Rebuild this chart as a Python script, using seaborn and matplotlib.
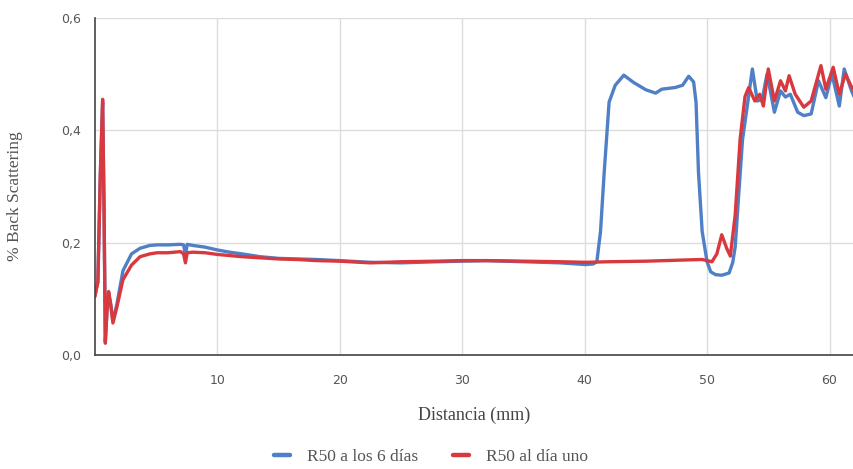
import pandas as pd
import seaborn as sns
import matplotlib.pyplot as plt
from matplotlib.ticker import FuncFormatter

# Datos (distancia en mm, back scattering)
dist_6dias = [0.0, 0.25, 0.45, 0.64, 0.75, 0.86, 1.0, 1.13, 1.3, 1.48, 1.8, 2.3, 3.0, 3.7, 4.5, 5.1,
              6.0, 7.0, 7.25, 7.4, 7.55, 8.0, 9.0, 10.0, 11.0, 12.0, 13.5, 15.0, 16.5, 18.1, 20.0,
              22.5, 25.0, 28.0, 30.0, 32.0, 35.0, 38.0, 40.1, 40.7, 41.0, 41.3, 41.6, 42.0, 42.5,
              43.2, 44.0, 45.0, 45.8, 46.3, 47.4, 48.0, 48.5, 48.9, 49.1, 49.3, 49.6, 50.0, 50.3,
              50.7, 51.2, 51.8, 52.1, 52.3, 52.6, 52.9, 53.2, 53.7, 54.1, 54.5, 54.9, 55.5, 56.0,
              56.4, 56.8, 57.4, 57.9, 58.5, 59.1, 59.7, 60.2, 60.8, 61.2, 61.8, 62.0]
bs_6dias = [0.104, 0.13, 0.32, 0.45, 0.27, 0.025, 0.08, 0.11, 0.09, 0.06, 0.09, 0.15, 0.18, 0.19,
            0.195, 0.196, 0.196, 0.197, 0.196, 0.178, 0.197, 0.195, 0.192, 0.187, 0.183, 0.180,
            0.175, 0.172, 0.171, 0.170, 0.168, 0.165, 0.164, 0.166, 0.167, 0.168, 0.166, 0.164,
            0.161, 0.162, 0.166, 0.22, 0.325, 0.45, 0.48, 0.498, 0.485, 0.472, 0.466, 0.473,
            0.476, 0.48, 0.496, 0.486, 0.45, 0.325, 0.22, 0.166, 0.148, 0.143, 0.142, 0.146,
            0.165, 0.193, 0.29, 0.384, 0.43, 0.509, 0.452, 0.455, 0.50, 0.432, 0.47, 0.459, 0.464,
            0.432, 0.426, 0.429, 0.488, 0.458, 0.50, 0.443, 0.509, 0.47, 0.46]

dist_dia1 = [0.0, 0.25, 0.45, 0.64, 0.75, 0.86, 1.0, 1.13, 1.3, 1.48, 1.8, 2.3, 3.0, 3.7, 4.5, 5.1,
             6.0, 7.0, 7.25, 7.4, 7.55, 8.0, 9.0, 10.0, 11.0, 12.0, 13.5, 15.0, 16.5, 18.1, 20.0,
             22.5, 25.0, 28.0, 30.0, 32.0, 35.0, 38.0, 40.1, 42.0, 45.0, 48.0, 49.6, 50.4, 50.8,
             51.2, 51.6, 51.9, 52.3, 52.7, 53.1, 53.4, 53.9, 54.3, 54.6, 55.0, 55.5, 56.0, 56.4,
             56.7, 57.2, 57.9, 58.5, 59.3, 59.7, 60.3, 60.8, 61.3, 61.8, 62.0]
bs_dia1 = [0.104, 0.13, 0.32, 0.455, 0.27, 0.021, 0.08, 0.113, 0.09, 0.057, 0.085, 0.134, 0.16,
           0.175, 0.180, 0.182, 0.182, 0.184, 0.180, 0.164, 0.182, 0.183, 0.182, 0.179, 0.177,
           0.175, 0.173, 0.171, 0.170, 0.168, 0.167, 0.164, 0.166, 0.167, 0.168, 0.168, 0.167,
           0.166, 0.165, 0.166, 0.167, 0.169, 0.170, 0.166, 0.18, 0.214, 0.19, 0.176, 0.25,
           0.384, 0.46, 0.476, 0.452, 0.464, 0.443, 0.509, 0.452, 0.488, 0.47, 0.497, 0.464,
           0.441, 0.452, 0.515, 0.473, 0.512, 0.464, 0.50, 0.477, 0.47]

series = ["R50 a los 6 días", "R50 al día uno"]
colores = ["#4f7fc6", "#d8393f"]

df = pd.concat([
    pd.DataFrame({"Distancia": dist_6dias, "BS": bs_6dias, "Serie": series[0]}),
    pd.DataFrame({"Distancia": dist_dia1, "BS": bs_dia1, "Serie": series[1]}),
], ignore_index=True)

sns.set_style("white")
plt.rcParams["font.family"] = ["DejaVu Sans"]

fig = plt.figure(figsize=(8.54, 4.69), dpi=100)
ax = fig.add_axes([0.111, 0.243, 0.889, 0.719])

sns.lineplot(data=df, x="Distancia", y="BS", hue="Serie", hue_order=series,
             palette=colores, linewidth=2.4, estimator=None, sort=False, ax=ax)

ax.set_xlim(0, 62)
ax.set_ylim(0, 0.6)
ax.set_xticks([10, 20, 30, 40, 50, 60])
ax.set_yticks([0.0, 0.2, 0.4, 0.6])
ax.yaxis.set_major_formatter(FuncFormatter(lambda v, p: f"{v:.1f}".replace(".", ",")))
ax.tick_params(axis="both", length=0, labelsize=9, labelcolor="#555555")
ax.tick_params(axis="x", pad=14)
ax.tick_params(axis="y", pad=10)

# Rejilla y ejes
ax.grid(True, color="#dcdcdc", linewidth=1)
for lado in ["top", "right"]:
    ax.spines[lado].set_visible(False)
ax.spines["left"].set_color("#444444")
ax.spines["bottom"].set_color("#444444")
ax.spines["left"].set_linewidth(1.2)
ax.spines["bottom"].set_linewidth(1.2)

ax.set_xlabel("Distancia (mm)", fontsize=13, color="#444444", family="Liberation Serif", labelpad=14)
ax.set_ylabel("% Back Scattering", fontsize=12.5, color="#555555", family="Liberation Serif")
ax.yaxis.set_label_coords(-0.095, 0.47)

ax.get_legend().remove()
handles, labels = ax.get_legend_handles_labels()
for h in handles:
    h.set_linewidth(3.2)
fig.legend(handles, labels, loc="center", bbox_to_anchor=(0.505, 0.026), ncol=2, frameon=False,
           handlelength=0.9, handletextpad=1.0, columnspacing=2.0,
           prop={"family": "Liberation Serif", "size": 12.5}, labelcolor="#555555")

plt.savefig("out.png", dpi=100)
